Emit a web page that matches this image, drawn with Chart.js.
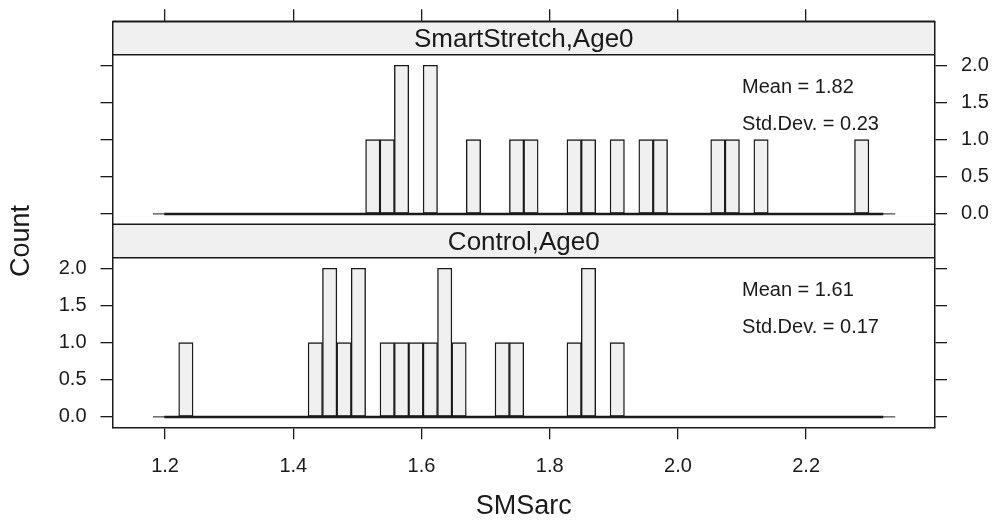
<!DOCTYPE html>
<html>
<head>
<meta charset="utf-8">
<title>SMSarc histogram</title>
<script src="https://cdn.jsdelivr.net/npm/chart.js@4.4.1/dist/chart.umd.min.js"></script>
<style>
  html, body { margin: 0; padding: 0; background: #fff; }
  #hist { display: block; }
</style>
</head>
<body>
<canvas id="hist" width="993" height="523"></canvas>
<script>
// equal-width bins shared by both panels
const binStart = 1.1988;
const binWidth = 0.02243;
const binCount = 50;

const panelNames = ['SmartStretch,Age0', 'Control,Age0'];

// counts per bin, bin 0 .. bin 49
const smartStretchCounts = [
    0, 0, 0, 0, 0, 0, 0, 0, 0, 0,
    0, 0, 0, 0, 1, 1, 2, 0, 2, 0,
    0, 1, 0, 0, 1, 1, 0, 0, 1, 1,
    0, 1, 0, 1, 1, 0, 0, 0, 1, 1,
    0, 1, 0, 0, 0, 0, 0, 0, 1, 0
];
const controlCounts = [
    0, 1, 0, 0, 0, 0, 0, 0, 0, 0,
    1, 2, 1, 2, 0, 1, 1, 1, 1, 2,
    1, 0, 0, 1, 1, 0, 0, 0, 1, 2,
    0, 1, 0, 0, 0, 0, 0, 0, 0, 0,
    0, 0, 0, 0, 0, 0, 0, 0, 0, 0
];

const smartStretchStats = ['Mean = 1.82', 'Std.Dev. = 0.23'];
const controlStats = ['Mean = 1.61', 'Std.Dev. = 0.17'];

const xTicks = [1.2, 1.4, 1.6, 1.8, 2.0, 2.2];
const yTicks = [0, 0.5, 1.0, 1.5, 2.0];
const xRange = [1.118, 2.401];
const yRange = [-0.14, 2.14];
// thin reference line under each histogram
const refLine = [1.181, 2.339];

const ink = '#1a1a1a';
const fill = '#f0f0f0';
const family = "'Liberation Sans', Arial, Helvetica, sans-serif";

// the strip sits inside each stacked y scale, above the panel
const stripShare = 0.198;
const yMax = yRange[1] + (yRange[1] - yRange[0]) * stripShare;

const breaks = [];
for (let i = 0; i <= binCount; i++) {
    breaks.push(binStart + i * binWidth);
}

function histDataset(counts, yAxisID) {
    return {
        type: 'bar',
        data: counts.map((c, i) => ({x: (breaks[i] + breaks[i + 1]) / 2, y: c})),
        xAxisID: 'x',
        yAxisID: yAxisID,
        backgroundColor: fill,
        borderColor: ink,
        borderWidth: 1.4,
        borderSkipped: false,
        barPercentage: 1,
        categoryPercentage: 1,
        grouped: false,
        order: 2
    };
}

function lineDataset(xs, yAxisID, width) {
    return {
        type: 'line',
        data: xs.map((x) => ({x: x, y: 0})),
        xAxisID: 'x',
        yAxisID: yAxisID,
        borderColor: ink,
        borderWidth: width,
        pointRadius: 0,
        fill: false,
        order: 1
    };
}

// keep label overhang from pushing the plot area around
function noPadding(scale) {
    scale.paddingTop = 0;
    scale.paddingBottom = 0;
    scale.paddingLeft = 0;
    scale.paddingRight = 0;
}

function yAxis(position, showLabels, weight) {
    return {
        type: 'linear',
        position: position,
        stack: position,
        stackWeight: 1,
        weight: weight,
        min: yRange[0],
        max: yMax,
        afterBuildTicks: (scale) => {
            scale.ticks = yTicks.map((v) => ({value: v}));
        },
        afterFit: (scale) => {
            scale.width = position === 'left' ? 112.5 : 58;
            noPadding(scale);
        },
        border: {display: true, color: ink, width: 1.5, z: 1},
        grid: {display: true, drawOnChartArea: false, drawTicks: true, tickLength: 12, color: ink, lineWidth: 1.3},
        ticks: {
            display: showLabels,
            autoSkip: false,
            padding: 14,
            color: ink,
            font: {family: family, size: 20},
            callback: (v) => Number(v).toFixed(1)
        }
    };
}

function xAxis(position, showLabels, height) {
    return {
        type: 'linear',
        position: position,
        offset: false,
        min: xRange[0],
        max: xRange[1],
        afterBuildTicks: (scale) => {
            scale.ticks = xTicks.map((v) => ({value: v}));
        },
        afterFit: (scale) => {
            scale.height = height;
            noPadding(scale);
        },
        border: {display: true, color: ink, width: 1.5, z: 1},
        grid: {display: true, offset: false, drawOnChartArea: false, drawTicks: true, tickLength: 12, color: ink, lineWidth: 1.3},
        ticks: {
            display: showLabels,
            autoSkip: false,
            maxRotation: 0,
            padding: 15,
            color: ink,
            font: {family: family, size: 20},
            callback: (v) => Number(v).toFixed(1)
        },
        title: {
            display: showLabels,
            text: 'SMSarc',
            color: ink,
            font: {family: family, size: 27},
            padding: {top: 0, bottom: 0}
        }
    };
}

const panels = [
    {name: panelNames[0], axis: 'yTop', stats: smartStretchStats},
    {name: panelNames[1], axis: 'yBot', stats: controlStats}
];

// strips, panel labels, mean / sd text and the shared y title
const panelDecor = {
    id: 'panelDecor',
    beforeDatasetsDraw(chart) {
        const {ctx, chartArea} = chart;
        panels.forEach((p) => {
            const ys = chart.scales[p.axis];
            const top = ys.top;
            const bottom = ys.getPixelForValue(yRange[1]);
            ctx.save();
            ctx.fillStyle = fill;
            ctx.fillRect(chartArea.left, top, chartArea.width, bottom - top);
            ctx.strokeStyle = ink;
            ctx.lineWidth = 1.5;
            ctx.beginPath();
            ctx.moveTo(chartArea.left, top);
            ctx.lineTo(chartArea.right, top);
            ctx.moveTo(chartArea.left, bottom);
            ctx.lineTo(chartArea.right, bottom);
            ctx.stroke();
            ctx.fillStyle = ink;
            ctx.font = '26px ' + family;
            ctx.textAlign = 'center';
            ctx.textBaseline = 'middle';
            ctx.fillText(p.name, (chartArea.left + chartArea.right) / 2, (top + bottom) / 2 + 2);
            ctx.restore();
        });
    },
    afterDatasetsDraw(chart) {
        const {ctx} = chart;
        const xs = chart.scales.x;
        panels.forEach((p) => {
            const ys = chart.scales[p.axis];
            ctx.save();
            ctx.fillStyle = ink;
            ctx.font = '20px ' + family;
            ctx.textAlign = 'left';
            ctx.textBaseline = 'middle';
            ctx.fillText(p.stats[0], xs.getPixelForValue(2.1), ys.getPixelForValue(1.7));
            ctx.fillText(p.stats[1], xs.getPixelForValue(2.1), ys.getPixelForValue(1.2));
            ctx.restore();
        });
    },
    afterDraw(chart) {
        const {ctx, chartArea} = chart;
        const panelTop = chart.scales.yTop.getPixelForValue(yRange[1]);
        ctx.save();
        ctx.translate(22, (panelTop + chartArea.bottom) / 2);
        ctx.rotate(-Math.PI / 2);
        ctx.fillStyle = ink;
        ctx.font = '27px ' + family;
        ctx.textAlign = 'center';
        ctx.textBaseline = 'middle';
        ctx.fillText('Count', 0, 0);
        ctx.restore();
    }
};

new Chart(document.getElementById('hist'), {
    type: 'bar',
    data: {
        datasets: [
            histDataset(smartStretchCounts, 'yTop'),
            histDataset(controlCounts, 'yBot'),
            lineDataset(refLine, 'yTop', 1),
            lineDataset([breaks[0], breaks[binCount]], 'yTop', 2.5),
            lineDataset(refLine, 'yBot', 1),
            lineDataset([breaks[0], breaks[binCount]], 'yBot', 2.5)
        ]
    },
    options: {
        responsive: false,
        devicePixelRatio: 1,
        animation: false,
        layout: {padding: 0},
        plugins: {
            legend: {display: false},
            tooltip: {enabled: false}
        },
        scales: {
            x: xAxis('bottom', true, 95.7),
            xTop: xAxis('top', false, 21.3),
            yTop: yAxis('left', false, 2),
            yBot: yAxis('left', true, 1),
            yTopR: yAxis('right', true, 1),
            yBotR: yAxis('right', false, 2)
        }
    },
    plugins: [panelDecor]
});
</script>
</body>
</html>
